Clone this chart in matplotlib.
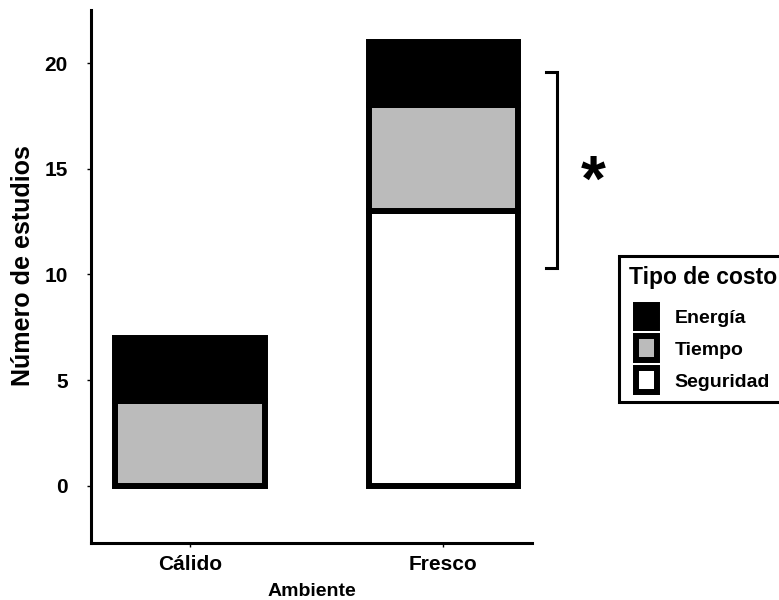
import matplotlib
matplotlib.use("Agg")
import matplotlib.pyplot as plt
from matplotlib.patches import Patch
from matplotlib.legend_handler import HandlerPatch

plt.rcParams['font.family'] = ['Liberation Sans', 'DejaVu Sans']

# study counts per environment, stacked by cost type
ambientes = ['Cálido', 'Fresco']
seguridad = [0, 13]
tiempo = [4, 5]
energia = [3, 3]

tipos = ['Energía', 'Tiempo', 'Seguridad']
colores = {'Energía': 'black', 'Tiempo': '#bbbbbb', 'Seguridad': 'white'}

lw = 4.3
fig = plt.figure(figsize=(7.79, 6.0), dpi=100)
ax = fig.add_axes([0.117, 0.095, 0.566, 0.888])

x = list(range(len(ambientes)))
ancho = 0.59
ax.bar(x, seguridad, ancho, color=colores['Seguridad'], edgecolor='black', linewidth=lw)
ax.bar(x, tiempo, ancho, bottom=seguridad, color=colores['Tiempo'], edgecolor='black', linewidth=lw)
base_e = [s + t for s, t in zip(seguridad, tiempo)]
ax.bar(x, energia, ancho, bottom=base_e, color=colores['Energía'], edgecolor='black', linewidth=lw)

ax.set_xlim(-0.39, 1.35)
ax.set_ylim(-2.7, 22.5)
ax.set_xticks(x)
ax.set_xticklabels(ambientes)
ax.set_yticks([0, 5, 10, 15, 20])

for s in ['top', 'right']:
    ax.spines[s].set_visible(False)
for s in ['left', 'bottom']:
    ax.spines[s].set_linewidth(2.2)

ax.tick_params(axis='both', length=3, width=1, labelsize=15)
ax.tick_params(axis='y', pad=14)
ax.tick_params(axis='x', pad=6)
for t in ax.get_xticklabels() + ax.get_yticklabels():
    t.set_fontweight('bold')

ax.set_ylabel('Número de estudios', fontsize=18, fontweight='bold')
ax.yaxis.set_label_coords(-0.128, 0.52)
ax.set_xlabel('Ambiente', fontsize=14, fontweight='bold')
ax.xaxis.set_label_coords(0.5, -0.075)

# significance bracket over Tiempo + Energía in Fresco
bx, by0, by1, bw = 1.45, 10.3, 19.6, 0.045
ax.plot([bx - bw, bx, bx, bx - bw], [by0, by0, by1, by1], color='black',
        linewidth=2.2, clip_on=False, solid_joinstyle='miter')
ax.text(1.59, 14.3, '*', fontsize=46, fontweight='bold', ha='center', va='center',
        clip_on=False)

handles = [Patch(facecolor=colores[t], edgecolor='black', linewidth=lw) for t in tipos]
leg = ax.legend(handles, tipos, title='Tipo de costo', loc='upper left',
                bbox_to_anchor=(0.7946, 0.5735), bbox_transform=fig.transFigure,
                borderaxespad=0,
                prop={'size': 14, 'weight': 'bold'},
                title_fontproperties={'size': 16.5, 'weight': 'bold'},
                alignment='left', handlelength=1.48, handleheight=1.5,
                handler_map={Patch: HandlerPatch(xpad=0.35)},
                labelspacing=0.42, handletextpad=0.88, borderpad=0.5,
                fancybox=False, edgecolor='black', framealpha=1)
leg.get_frame().set_linewidth(2.2)
# a bit more room between the title and the first entry
leg._legend_box.sep = 11.5

fig.savefig('out.png', dpi=100)
